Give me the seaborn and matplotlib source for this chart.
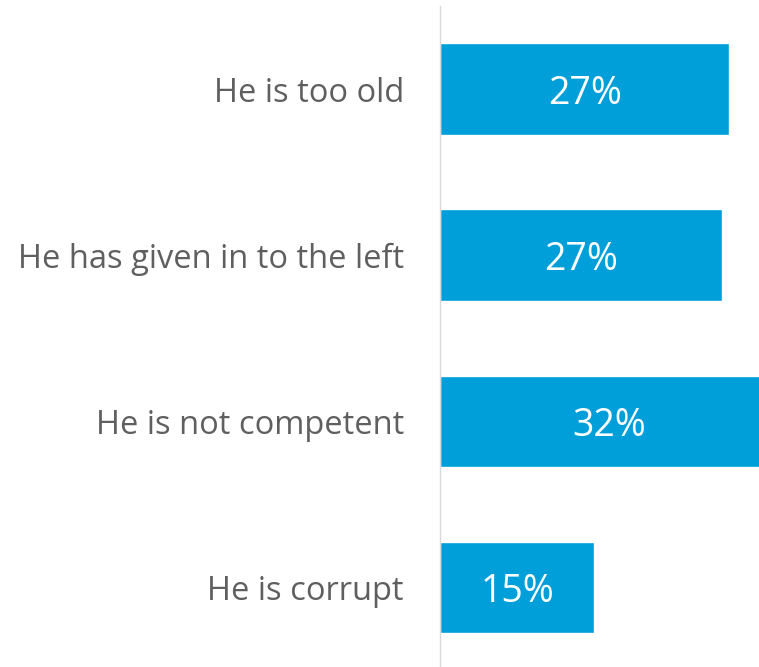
import seaborn as sns
import matplotlib.pyplot as plt
import pandas as pd

# Reasons (bar lengths are unrounded shares)
reasons = ['He is too old', 'He has given in to the left',
           'He is not competent', 'He is corrupt']
shares = [27.4, 26.7, 32.0, 14.6]
labels = ['27%', '27%', '32%', '15%']

df = pd.DataFrame({'Reason': reasons, 'Share': shares})

sns.set_style("white")
plt.rcParams['font.family'] = ['Open Sans', 'DejaVu Sans']

fig = plt.figure(figsize=(7.59, 6.67), dpi=100)
ax = fig.add_axes([440 / 759, 0.0, 1 - 440 / 759, 661 / 667])

sns.barplot(data=df, x='Share', y='Reason', color='#009FD9',
            width=0.55, saturation=1, ax=ax)

# value labels sit in the middle of each bar (a bit low, like the original)
for i, (v, lab) in enumerate(zip(shares, labels)):
    ax.text(v / 2, i + 0.03, lab, color='white', fontsize=27,
            ha='center', va='center')

ax.set_xlim(0, 30.2)
ax.set_ylim(3.48, -0.5)
ax.set_xlabel('')
ax.set_ylabel('')
ax.set_xticks([])
ax.tick_params(axis='y', length=0, pad=26, labelsize=23.5, labelcolor='#5F5F5F')
for s in ['top', 'right', 'bottom']:
    ax.spines[s].set_visible(False)
ax.spines['left'].set_color('#D9D9D9')
ax.spines['left'].set_linewidth(1)

fig.savefig('out.png', dpi=100, facecolor='white')
